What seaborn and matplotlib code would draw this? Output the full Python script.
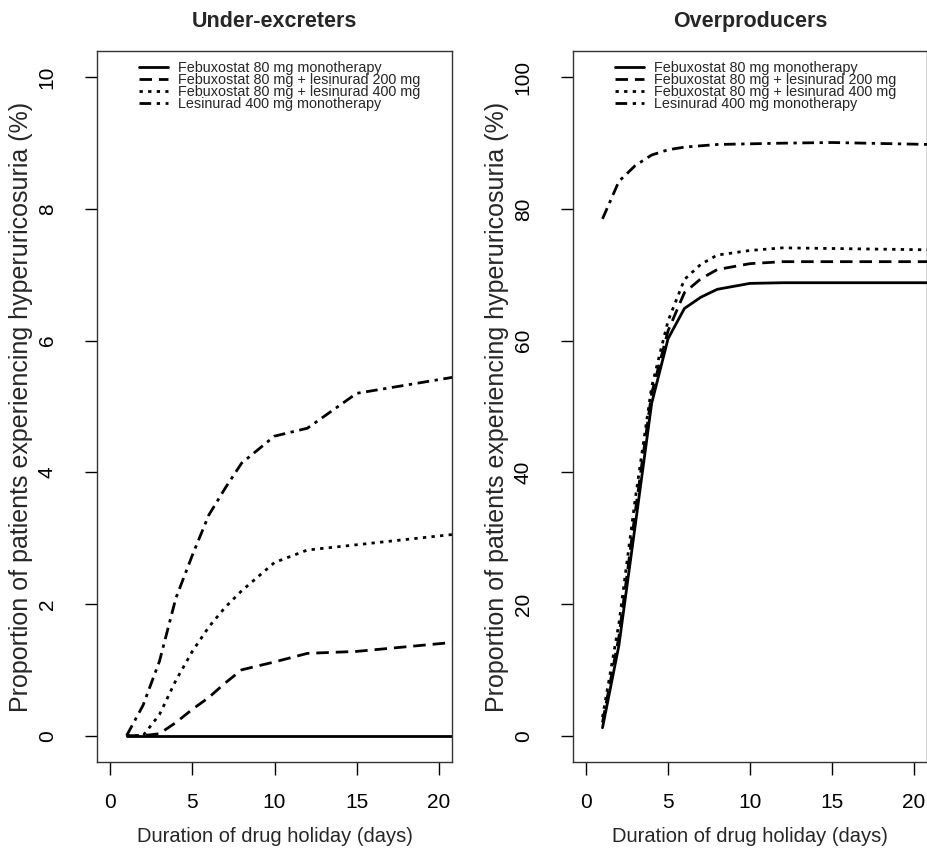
import matplotlib
matplotlib.use("Agg")
import matplotlib.pyplot as plt
import seaborn as sns
import pandas as pd

sns.set_style("white")
plt.rcParams["font.family"] = ["Liberation Sans", "DejaVu Sans"]

# ---------------- data ----------------
days = [1, 2, 3, 4, 5, 6, 7, 8, 10, 12, 15, 21]
treatments = [
    "Febuxostat 80 mg monotherapy",
    "Febuxostat 80 mg + lesinurad 200 mg",
    "Febuxostat 80 mg + lesinurad 400 mg",
    "Lesinurad 400 mg monotherapy",
]

# Under-excreters (%)
ue_febu = [0, 0, 0, 0, 0, 0, 0, 0, 0, 0, 0, 0]
ue_f200 = [0, 0, 0.03, 0.2, 0.4, 0.58, 0.8, 1.0, 1.12, 1.25, 1.28, 1.42]
ue_f400 = [0, 0, 0.32, 0.84, 1.28, 1.65, 1.95, 2.2, 2.63, 2.82, 2.9, 3.06]
ue_lesi = [0, 0.46, 1.13, 2.09, 2.74, 3.35, 3.76, 4.14, 4.55, 4.67, 5.2, 5.45]

# Overproducers (%)
op_febu = [1.2, 13.7, 32.0, 50.5, 60.3, 64.9, 66.6, 67.8, 68.7, 68.8, 68.8, 68.8]
op_f200 = [2.0, 15.0, 34.0, 52.0, 61.5, 67.3, 69.4, 70.8, 71.7, 72.0, 72.0, 72.0]
op_f400 = [2.8, 17.0, 36.0, 53.0, 63.0, 69.3, 71.6, 73.0, 73.7, 74.1, 74.0, 73.8]
op_lesi = [78.5, 84.2, 86.6, 88.2, 89.0, 89.4, 89.6, 89.8, 89.9, 90.0, 90.1, 89.8]

titles = ["Under-excreters", "Overproducers"]
xlabel = "Duration of drug holiday (days)"
ylabel = "Proportion of patients experiencing hyperuricosuria (%)"
xticks = [0, 5, 10, 15, 20]
yticks_ue = [0, 2, 4, 6, 8, 10]
yticks_op = [0, 20, 40, 60, 80, 100]


def long_frame(series):
    rows = []
    for name, vals in zip(treatments, series):
        for d, v in zip(days, vals):
            rows.append({"day": d, "value": v, "treatment": name})
    return pd.DataFrame(rows)


df_ue = long_frame([ue_febu, ue_f200, ue_f400, ue_lesi])
df_op = long_frame([op_febu, op_f200, op_f400, op_lesi])

dash_map = {
    treatments[0]: "",
    treatments[1]: (4.5, 2.5),
    treatments[2]: (1.2, 1.9),
    treatments[3]: (4.2, 2.0, 1.2, 2.0),
}

fig = plt.figure(figsize=(9.28, 8.49), dpi=100)
W, H = 928.0, 849.0
ax1 = fig.add_axes([97 / W, 1 - 762 / H, 355 / W, 711 / H])
ax2 = fig.add_axes([573 / W, 1 - 762 / H, 354 / W, 711 / H])

panels = [
    (ax1, df_ue, titles[0], yticks_ue, (-0.4, 10.4)),
    (ax2, df_op, titles[1], yticks_op, (-4, 104)),
]

for ax, df, title, yt, ylim in panels:
    sns.lineplot(
        data=df, x="day", y="value", style="treatment",
        style_order=treatments, dashes=dash_map, color="black",
        linewidth=2.0, ax=ax, legend=False, estimator=None,
    )
    ax.set_xlim(-0.8, 20.8)
    ax.set_ylim(*ylim)
    ax.set_xticks(xticks)
    ax.set_yticks(yt)
    ax.set_xticklabels([str(t) for t in xticks])
    ax.set_yticklabels([str(t) for t in yt], rotation=90, va="center")
    ax.tick_params(axis="both", direction="out", length=9, width=1.0,
                   labelsize=15, colors="black", bottom=True, left=True)
    ax.tick_params(axis="x", pad=13)
    ax.tick_params(axis="y", pad=20)
    for sp in ax.spines.values():
        sp.set_visible(True)
        sp.set_color("#333333")
        sp.set_linewidth(1.0)
    ax.set_xlabel(xlabel, fontsize=14.5, labelpad=11)
    ax.set_ylabel(ylabel, fontsize=18)
    ax.yaxis.set_label_coords(-0.18, 0.5)
    ax.set_title(title, fontsize=15.5, fontweight="bold", pad=17)
    ax.legend(handles=ax.get_lines()[:4], labels=treatments,
              loc="upper left", bbox_to_anchor=(0.118, 0.986),
              frameon=False, fontsize=10.4, borderpad=0, borderaxespad=0,
              labelspacing=-0.14, handlelength=2.0, handletextpad=0.7)
    ax.grid(False)

fig.savefig("out.png", dpi=100)
